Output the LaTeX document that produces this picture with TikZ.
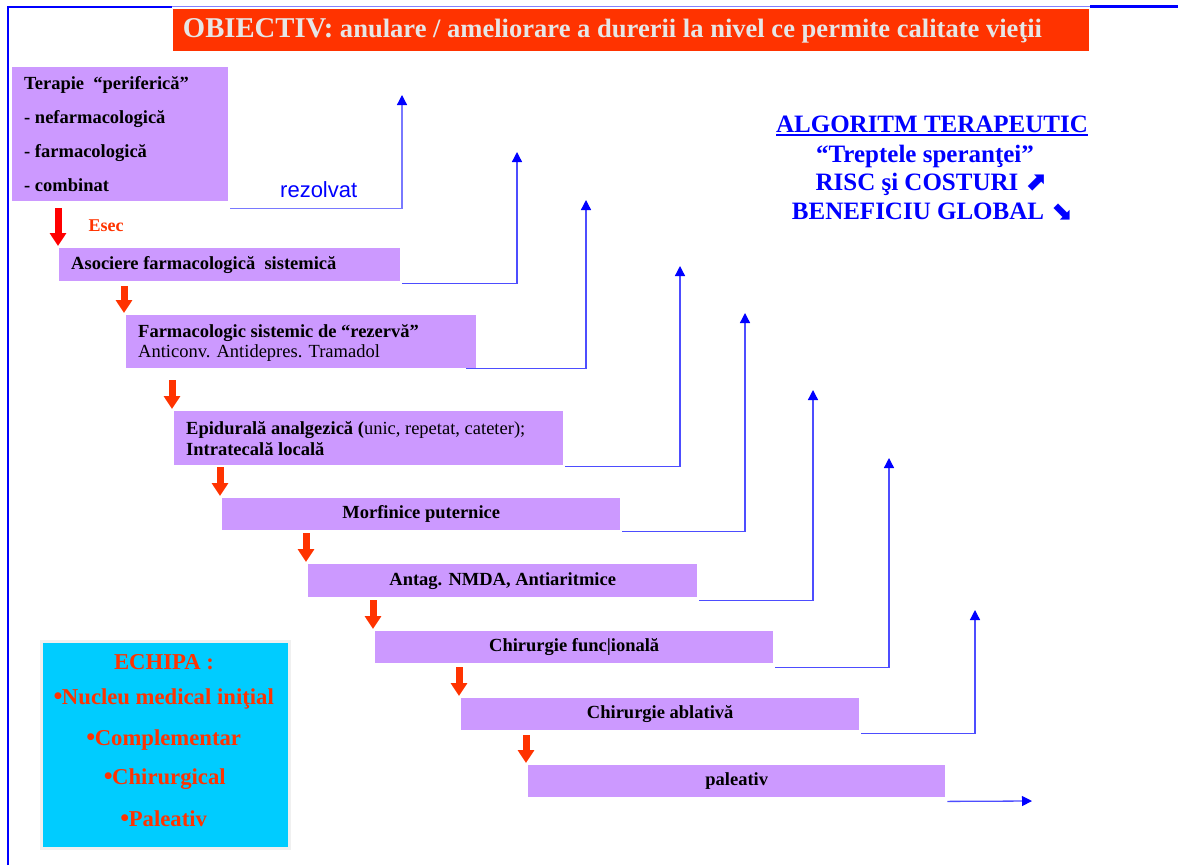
\documentclass[tikz,border=0pt]{standalone}
\usepackage{fontspec}
\setmainfont{Liberation Serif}
\newfontfamily\sansf{Liberation Sans}
\newfontfamily\symf{DejaVu Sans}
\usetikzlibrary{arrows.meta,calc}
\definecolor{boxpurple}{HTML}{CC99FF}
\definecolor{titleorange}{HTML}{FF3300}
\definecolor{echcyan}{HTML}{00CCFF}
\definecolor{linkblue}{HTML}{4D4DFF}
\definecolor{tipblue}{HTML}{0000FF}
\definecolor{txtgray}{HTML}{E6E6E6}
\newcommand\thickul[1]{\setbox0\hbox{#1}\rlap{\rule[-3.5pt]{\wd0}{2.2pt}}\box0}
\newcommand\echbul{\raisebox{6pt}{\symf\fontsize{9}{9}\selectfont●}}
\tikzset{
  stepbox/.style={fill=boxpurple, draw=none, inner sep=0, anchor=north west},
  boxtext/.style={font=\fontsize{18.5}{21}\selectfont\bfseries, inner sep=0, align=left, text=black},
  redarr/.style={draw=titleorange, line width=7pt, -{Triangle[width=16pt,length=13pt,color=titleorange]}},
  bluearr/.style={draw=linkblue, line width=1.3pt, -{Triangle[width=10pt,length=10pt,color=tipblue]}},
  legtext/.style={font=\fontsize{25}{28}\selectfont\bfseries, text=tipblue, inner sep=0},
  echtext/.style={font=\fontsize{22.7}{22.7}\selectfont\bfseries, text=titleorange, inner sep=0},
}
\begin{document}
\begin{tikzpicture}[x=1pt,y=-1pt]
\useasboundingbox (0,0) rectangle (1178,865);
% frame
\draw[tipblue, line width=2.5pt] (8,865) -- (8,7) -- (172,7);
\draw[linkblue!70, line width=1.2pt] (172,6.5) -- (1090,6.5);
\draw[tipblue, line width=2.5pt] (1090,6.5) -- (1178,6.5);
% title
\node[fill=titleorange, inner sep=0, minimum width=916pt, minimum height=42pt, anchor=north west] (title) at (173,9) {};
\node[inner sep=0, text=txtgray] (titletext) at (612.5,31) {\resizebox{859pt}{!}{\bfseries\fontsize{27}{27}\selectfont OBIECTIV:\fontsize{25}{25}\selectfont{} anulare / ameliorare a durerii la nivel ce permite calitate vieţii}};
% boxes
\node[stepbox, minimum width=216pt, minimum height=134pt] (b1) at (12,67) {};
\node[stepbox, minimum width=341pt, minimum height=33pt] (b2) at (59,248) {};
\node[stepbox, minimum width=350pt, minimum height=53pt] (b3) at (126,315) {};
\node[stepbox, minimum width=389pt, minimum height=54pt] (b4) at (174,411) {};
\node[stepbox, minimum width=398pt, minimum height=32pt] (b5) at (222,498) {};
\node[stepbox, minimum width=389pt, minimum height=33pt] (b6) at (308,564) {};
\node[stepbox, minimum width=398pt, minimum height=32pt] (b7) at (375,631) {};
\node[stepbox, minimum width=398pt, minimum height=32pt] (b8) at (461,698) {};
\node[stepbox, minimum width=417pt, minimum height=32pt] (b9) at (528,765) {};
% box texts
\node[boxtext, anchor=west, font=\fontsize{18.5}{34}\selectfont\bfseries] (t1) at ($(b1.west)+(12,0)$) {Terapie\ \ “periferică”\\- nefarmacologică\\- farmacologică\\- combinat};
\node[boxtext, anchor=west] (t2) at ($(b2.west)+(12,0)$) {Asociere farmacologică\ \ sistemică};
\node[boxtext, anchor=west, font=\fontsize{18.5}{20.5}\selectfont\bfseries] (t3) at ($(b3.west)+(12,1)$) {Farmacologic sistemic de “rezervă”\\{\mdseries Anticonv. Antidepres. Tramadol}};
\node[boxtext, anchor=west, font=\fontsize{18.5}{21}\selectfont\bfseries] (t4) at ($(b4.west)+(12,0)$) {Epidurală analgezică ({\mdseries unic, repetat, cateter);}\\Intratecală locală};
\node[boxtext] (t5) at (b5) {Morfinice puternice};
\node[boxtext] (t6) at (b6) {Antag. NMDA, Antiaritmice};
\node[boxtext] (t7) at (b7) {Chirurgie func|ională};
\node[boxtext] (t8) at (b8) {Chirurgie ablativă};
\node[boxtext] (t9) at (b9) {paleativ};
% labels
\node[font=\sansf\fontsize{22}{22}\selectfont, text=tipblue, anchor=base west, inner sep=0] (rez) at (280,197) {rezolvat};
\node[font=\bfseries\fontsize{18}{18}\selectfont, text=titleorange, inner sep=0] (esec) at (106,226) {Esec};
% red arrows
\draw[redarr, draw=red, -{Triangle[width=16pt,length=13pt,color=red]}] ($(b1.south -| b2.west)+(-1,7)$) -- ($(b2.north west)+(-1,-2)$);
\draw[redarr] ($(b2.south -| b3.west)+(-2,5)$) -- ($(b3.north west)+(-2,-2)$);
\draw[redarr] ($(b3.south -| b4.west)+(-2,12)$) -- ($(b4.north west)+(-2,-2)$);
\draw[redarr] ($(b4.south -| b5.west)+(-2,2)$) -- ($(b5.north west)+(-2,-2)$);
\draw[redarr] ($(b5.south -| b6.west)+(-2,3)$) -- ($(b6.north west)+(-2,-2)$);
\draw[redarr] ($(b6.south -| b7.west)+(-2,3)$) -- ($(b7.north west)+(-2,-2)$);
\draw[redarr] ($(b7.south -| b8.west)+(-2,4)$) -- ($(b8.north west)+(-2,-2)$);
\draw[redarr] ($(b8.south -| b9.west)+(-2,5)$) -- ($(b9.north west)+(-2,-2)$);
% blue connectors
\coordinate (u1) at (402,95);
\coordinate (u2) at (517,152);
\coordinate (u3) at (586,200);
\coordinate (u4) at (680,266);
\coordinate (u5) at (745,313);
\coordinate (u6) at (813,390);
\coordinate (u7) at (889,458);
\coordinate (u8) at (975,610);
\coordinate (u9) at (1032,801);
\draw[bluearr, linkblue!75] ($(b1.south east)+(2,7)$) -| (u1);
\draw[bluearr] ($(b2.south east)+(2,2)$) -| (u2);
\draw[bluearr] ($(b3.south east)+(-10,0)$) -| (u3);
\draw[bluearr] ($(b4.south east)+(2,1)$) -| (u4);
\draw[bluearr] ($(b5.south east)+(2,1)$) -| (u5);
\draw[bluearr] ($(b6.south east)+(2,3)$) -| (u6);
\draw[bluearr] ($(b7.south east)+(2,4)$) -| (u7);
\draw[bluearr] ($(b8.south east)+(2,3)$) -| (u8);
\draw[bluearr] ($(b9.south east)+(2,4)$) -- (u9);
% legend
\node[legtext] (leg1) at (932,126) {\thickul{ALGORITM TERAPEUTIC}};
\node[legtext] (leg2) at (925,156) {“Treptele speranţei”};
\node[legtext] (leg3) at (931,184) {RISC şi COSTURI {\symf\bfseries\fontsize{26}{26}\selectfont ⬈}};
\node[legtext] (leg4) at (932,212) {BENEFICIU GLOBAL {\symf\bfseries\fontsize{26}{26}\selectfont ⬊}};
% echipa
\node[fill=echcyan, draw=gray!12, line width=3pt, inner sep=0, minimum width=248pt, minimum height=207pt, anchor=north west] (echipa) at (40,640) {};
\node[echtext] (e0) at (164,662) {ECHIPA :};
\node[echtext] (e1) at (164,699) {\echbul Nucleu medical iniţial};
\node[echtext] (e2) at (164,740) {\echbul Complementar};
\node[echtext] (e3) at (165,779) {\echbul Chirurgical};
\node[echtext] (e4) at (164,819) {\echbul Paleativ};
\end{tikzpicture}
\end{document}
